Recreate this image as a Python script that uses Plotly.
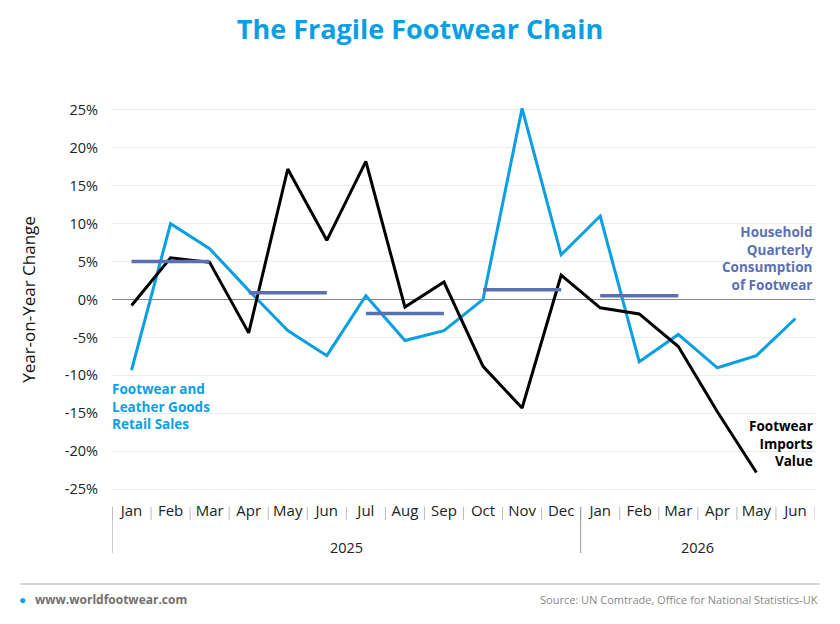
import plotly.graph_objects as go

# monthly data, Jan 2025 - Jun 2026
months = ["Jan", "Feb", "Mar", "Apr", "May", "Jun", "Jul", "Aug", "Sep",
          "Oct", "Nov", "Dec", "Jan", "Feb", "Mar", "Apr", "May", "Jun"]
years = [2025] * 12 + [2026] * 6
periods = [f"{m} {y}" for m, y in zip(months, years)]

retail_sales = [-9.3, 10.0, 6.7, 1.2, -4.1, -7.4, 0.5, -5.4, -4.1,
                0.0, 25.2, 5.9, 11.0, -8.2, -4.6, -9.0, -7.4, -2.5]
imports_value = [-0.8, 5.5, 4.9, -4.4, 17.2, 7.8, 18.2, -1.0, 2.3,
                 -8.8, -14.3, 3.2, -1.1, -1.9, -6.2, -14.8, -22.8, None]

# quarterly household consumption, one flat value per quarter
quarters = [("Jan 2025", "Mar 2025"), ("Apr 2025", "Jun 2025"), ("Jul 2025", "Sep 2025"),
            ("Oct 2025", "Dec 2025"), ("Jan 2026", "Mar 2026")]
consumption = [5.0, 0.9, -1.85, 1.3, 0.5]

y_ticks = [25, 20, 15, 10, 5, 0, -5, -10, -15, -20, -25]

BLUE = "#0a9fe2"
SLATE = "#5a70b3"
FONT = "Open Sans"

fig = go.Figure()

fig.add_trace(go.Scatter(x=periods, y=retail_sales, mode="lines",
                         line=dict(color=BLUE, width=3), name="Retail Sales"))
fig.add_trace(go.Scatter(x=periods, y=imports_value, mode="lines",
                         line=dict(color="black", width=3), name="Imports"))
for (start, end), val in zip(quarters, consumption):
    fig.add_trace(go.Scatter(x=[start, end], y=[val, val], mode="lines",
                             line=dict(color=SLATE, width=3.5), showlegend=False))

# month separators and year dividers under the axis
for i in range(len(periods) + 1):
    fig.add_shape(type="line", xref="x", yref="paper", x0=i - 0.5, x1=i - 0.5,
                  y0=-0.036, y1=-0.070, line=dict(color="#bbbbbb", width=1))
for i in [0, 12]:
    fig.add_shape(type="line", xref="x", yref="paper", x0=i - 0.5, x1=i - 0.5,
                  y0=-0.036, y1=-0.155, line=dict(color="#999999", width=1))
for yr, centre in [(2025, 5.5), (2026, 14.5)]:
    fig.add_annotation(x=centre, y=-0.142, xref="x", yref="paper", text=str(yr),
                       showarrow=False, yanchor="middle",
                       font=dict(size=14.5, color="#222222", family=FONT))

# footer
fig.add_shape(type="line", xref="paper", yref="paper", x0=-0.131, x1=1.007,
              y0=-0.235, y1=-0.235, layer="above",
              line=dict(color="#c8c8c8", width=1.5))
fig.add_annotation(x=-0.128, y=-0.276, xref="paper", yref="paper", text="●",
                   showarrow=False, xanchor="center", yanchor="middle",
                   font=dict(size=12, color=BLUE))
fig.add_annotation(x=-0.113, y=-0.276, xref="paper", yref="paper",
                   text="<b>www.worldfootwear.com</b>", showarrow=False,
                   xanchor="left", yanchor="middle",
                   font=dict(size=12, color="#707070", family=FONT))
fig.add_annotation(x=1.007, y=-0.276, xref="paper", yref="paper",
                   text="Source: UN Comtrade, Office for National Statistics-UK",
                   showarrow=False, xanchor="right", yanchor="middle",
                   font=dict(size=11, color="#888888", family=FONT))

# series labels
fig.add_annotation(x=-0.003, y=-10.3, xref="paper", yref="y", xanchor="left", yanchor="top",
                   align="left", showarrow=False,
                   text="<b>Footwear and<br>Leather Goods<br>Retail Sales</b>",
                   font=dict(size=13.5, color=BLUE, family=FONT))
fig.add_annotation(x=1.0, y=10.3, xref="paper", yref="y", xanchor="right", yanchor="top",
                   align="right", showarrow=False,
                   text="<b>Household<br>Quarterly<br>Consumption<br>of Footwear</b>",
                   font=dict(size=13.5, color=SLATE, family=FONT))
fig.add_annotation(x=1.0, y=-15.2, xref="paper", yref="y", xanchor="right", yanchor="top",
                   align="right", showarrow=False,
                   text="<b>Footwear<br>Imports<br>Value</b>",
                   font=dict(size=13.5, color="black", family=FONT))

fig.update_layout(
    width=840, height=624,
    margin=dict(l=104, r=33, t=98, b=139),
    plot_bgcolor="white", paper_bgcolor="white",
    showlegend=False,
    title=dict(text="<b>The Fragile Footwear Chain</b>", x=0.4905, y=0.965,
               xanchor="center", yanchor="middle",
               font=dict(size=27, color=BLUE, family=FONT)),
    font=dict(family=FONT, color="#222222"),
)
fig.update_xaxes(type="category", tickvals=periods, ticktext=months,
                 range=[-0.5, len(periods) - 0.5], showgrid=False, showline=False,
                 zeroline=False, ticks="", ticklabelstandoff=7,
                 tickfont=dict(size=15, color="#222222", family=FONT))
fig.update_yaxes(range=[-25.5, 25.5], tickvals=y_ticks,
                 ticktext=[f"{v}%" for v in y_ticks],
                 showgrid=True, gridcolor="#ebebeb", gridwidth=1,
                 zeroline=True, zerolinecolor="#888888", zerolinewidth=1,
                 showline=False, ticks="", ticklabelstandoff=13,
                 tickfont=dict(size=14.5, color="#222222", family=FONT),
                 title=dict(text="Year-on-Year Change", standoff=24,
                            font=dict(size=17, color="#111111", family=FONT)))

fig.write_html("out.html")
